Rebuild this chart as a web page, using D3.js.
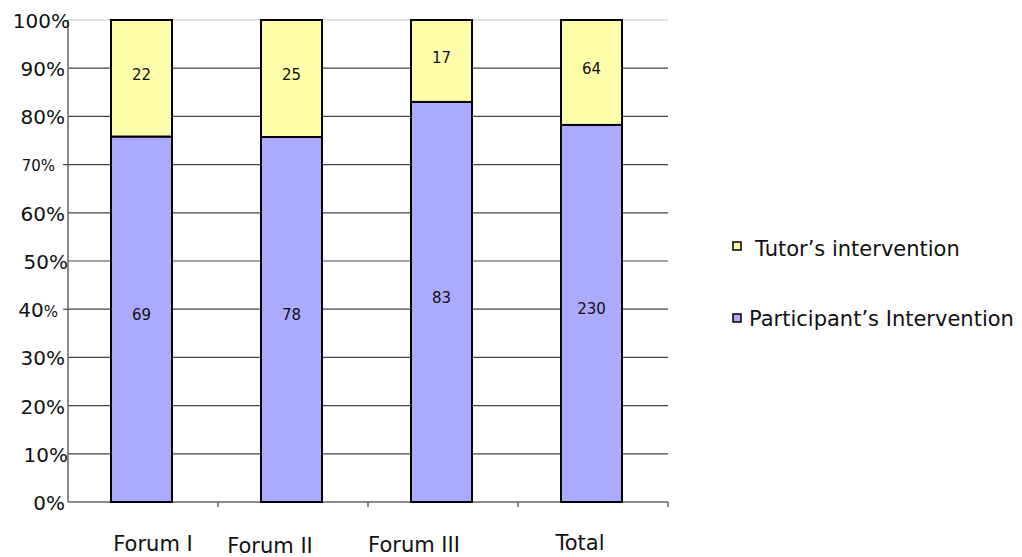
<!DOCTYPE html>
<html><head><meta charset="utf-8">
<script src="https://cdn.jsdelivr.net/npm/d3@7"></script>
<style>body{margin:0;background:#fff;} text{font-family:"DejaVu Sans",Verdana,sans-serif;fill:#111;}</style>
</head><body><svg id="c" width="1022" height="557"></svg>
<script>
const categories = ["Forum I", "Forum II", "Forum III", "Total"];
const participant = [69, 78, 83, 230];
const tutor = [22, 25, 17, 64];
const yTicks = [0, 0.1, 0.2, 0.3, 0.4, 0.5, 0.6, 0.7, 0.8, 0.9, 1.0];
const seriesNames = ["Tutor’s intervention", "Participant’s Intervention"];
const colors = {tutor: "#fffcaa", participant: "#aaaaff"};

const svg = d3.select("#c");
const L = 68, R = 668, T = 20, B = 502;
const xb = d3.scaleBand().domain(categories).range([L, R]);
const y = d3.scaleLinear().domain([0, 1]).range([B, T]);

// gridlines
svg.append("g").selectAll("line").data(yTicks.filter(d => d > 0)).join("line")
  .attr("x1", L).attr("x2", R).attr("y1", d => y(d)).attr("y2", d => y(d))
  .attr("stroke", d => d === 1 ? "#c8c8c8" : "#444").attr("stroke-width", 1.2);

// y axis line
svg.append("line").attr("x1", L).attr("x2", L).attr("y1", y(1)).attr("y2", B)
  .attr("stroke", "#666").attr("stroke-width", 1.5);
// x axis line
svg.append("line").attr("x1", L).attr("x2", R).attr("y1", B).attr("y2", B)
  .attr("stroke", "#666").attr("stroke-width", 1.5);
// x ticks at band boundaries
svg.append("g").selectAll("line").data(categories).join("line")
  .attr("x1", d => xb(d) + xb.bandwidth()).attr("x2", d => xb(d) + xb.bandwidth())
  .attr("y1", B).attr("y2", B + 5).attr("stroke", "#444").attr("stroke-width", 1.2);
// y ticks (outward marks)
svg.append("g").selectAll("line").data([0.7, 0.4]).join("line")
  .attr("x1", L - 5).attr("x2", L).attr("y1", d => y(d)).attr("y2", d => y(d))
  .attr("stroke", "#444").attr("stroke-width", 1.2);

// y labels
const yl = svg.append("g").selectAll("text").data(yTicks).join("text")
  .attr("x", d => d === 0.7 ? 55 : (d === 1 ? 70 : (d === 0.5 || d === 0.1 ? 68 : 65)))
  .attr("y", d => y(d) + (d === 0.7 ? 6 : 8))
  .attr("text-anchor", "end")
  .style("font-size", d => d === 0.7 ? "15px" : "20px");
yl.each(function(d) {
  const t = d3.select(this);
  const p = Math.round(d * 100);
  if (p === 40) {
    t.attr("x", 58);
    t.append("tspan").text("40");
    t.append("tspan").text("%").style("font-size", "15px");
  } else {
    t.text(p + "%");
  }
});

const data = categories.map((c, i) => {
  const tot = participant[i] + tutor[i];
  return {c, p: participant[i], t: tutor[i], pf: participant[i] / tot};
});

const bw = 61;
const cx = d => xb(d.c) + xb.bandwidth() / 2 - 1.5;
// participant bars
svg.append("g").selectAll("rect").data(data).join("rect")
  .attr("x", d => cx(d) - bw / 2).attr("width", bw)
  .attr("y", d => y(d.pf)).attr("height", d => B - y(d.pf))
  .attr("fill", colors.participant).attr("stroke", "#000").attr("stroke-width", 2);
// tutor bars
svg.append("g").selectAll("rect").data(data).join("rect")
  .attr("x", d => cx(d) - bw / 2).attr("width", bw)
  .attr("y", y(1)).attr("height", d => y(d.pf) - y(1))
  .attr("fill", colors.tutor).attr("stroke", "#000").attr("stroke-width", 2);

// value labels
svg.append("g").selectAll("text").data(data).join("text")
  .attr("x", d => cx(d)).attr("y", d => (y(d.pf) + B) / 2 + 1)
  .attr("text-anchor", "middle").style("font-size", "15px").text(d => d.p);
svg.append("g").selectAll("text").data(data).join("text")
  .attr("x", d => cx(d)).attr("y", d => (y(d.pf) + y(1)) / 2 + 2)
  .attr("text-anchor", "middle").style("font-size", "15px").text(d => d.t);

// x labels
const xOff = [10, -23, -29, -13];
const yOff = [0, 2, 1, -1];
svg.append("g").selectAll("text").data(categories).join("text")
  .attr("x", (d, i) => xb(d) + xb.bandwidth() / 2 + xOff[i])
  .attr("y", (d, i) => 551 + yOff[i])
  .attr("text-anchor", "middle").style("font-size", "21px").text(d => d);

// legend
const leg = [
  {name: seriesNames[0], color: colors.tutor, sy: 242, tx: 755, ty: 256},
  {name: seriesNames[1], color: colors.participant, sy: 314, tx: 749, ty: 326}
];
const lg = svg.append("g");
lg.selectAll("rect").data(leg).join("rect")
  .attr("x", 733).attr("y", d => d.sy).attr("width", 8).attr("height", 8)
  .attr("fill", d => d.color).attr("stroke", "#000").attr("stroke-width", 1.5);
lg.selectAll("text").data(leg).join("text")
  .attr("x", d => d.tx).attr("y", d => d.ty).style("font-size", "21px").text(d => d.name);
</script></body></html>
